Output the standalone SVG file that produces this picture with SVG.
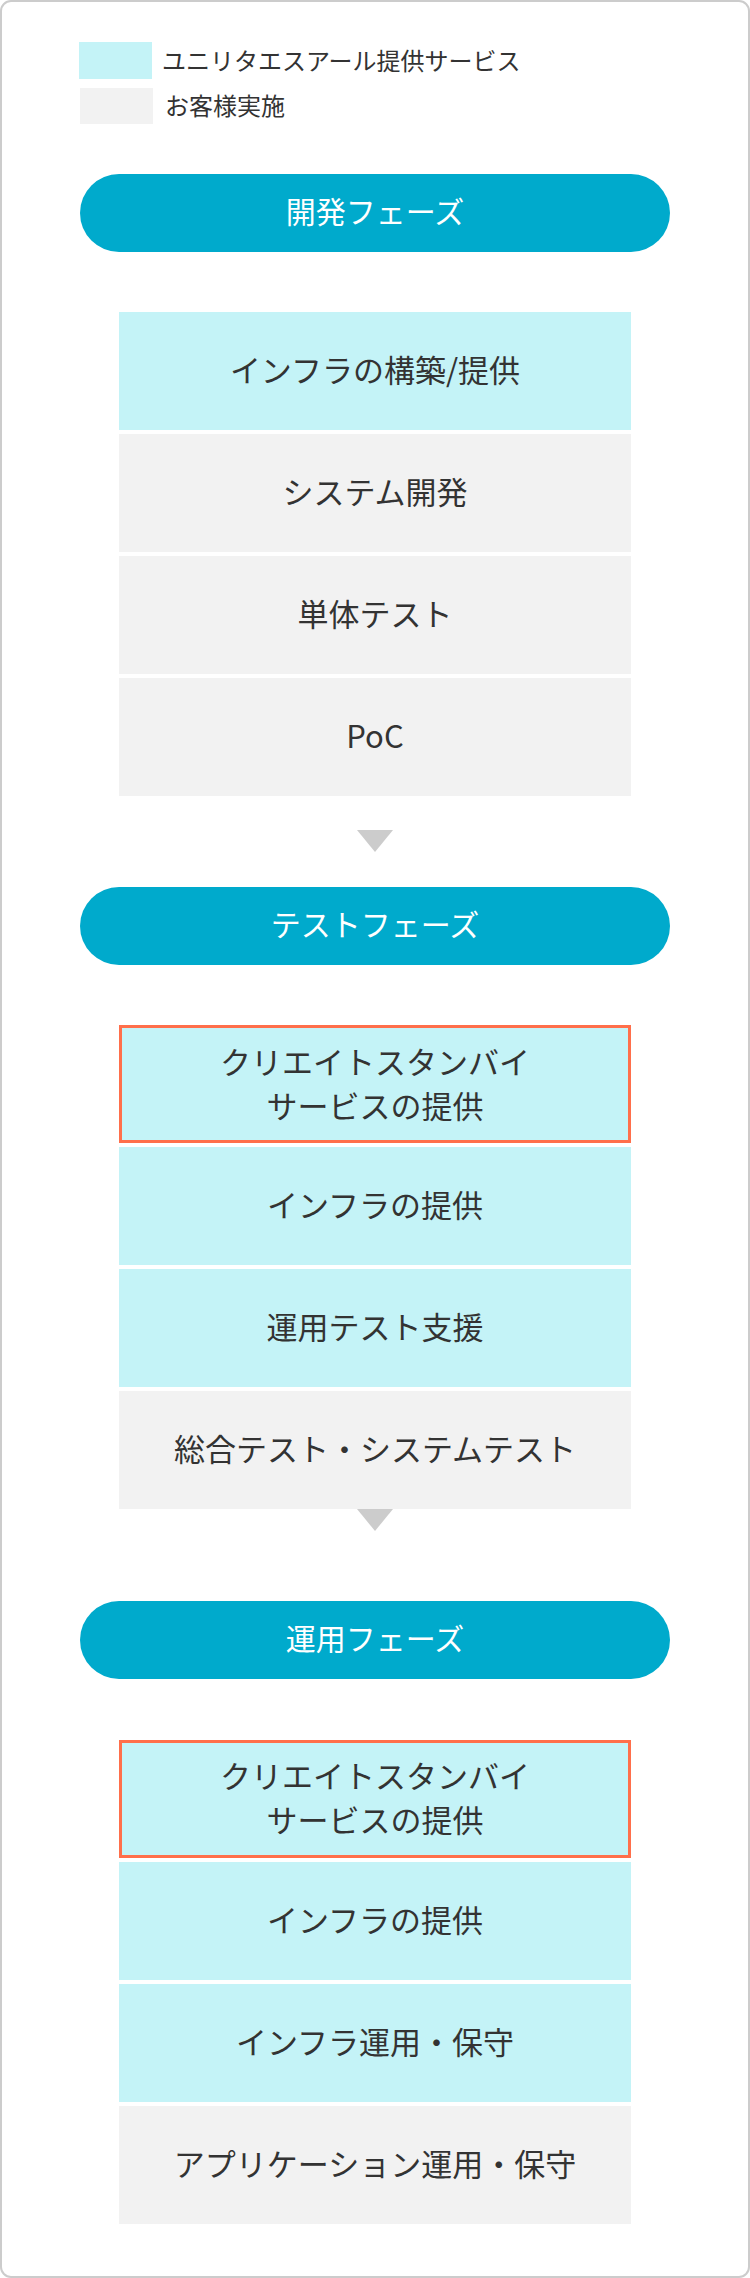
<svg xmlns="http://www.w3.org/2000/svg" width="750" height="2278" viewBox="0 0 750 2278">
  <style>
    text { font-family: "Noto Sans CJK JP", "Noto Sans", sans-serif; }
    .frame { fill: #ffffff; stroke: #cccccc; stroke-width: 2; }
    .svc { fill: #c4f3f7; }
    .cust { fill: #f2f2f2; }
    .hl { fill: #c4f3f7; stroke: #ff6f4b; stroke-width: 3; }
    .pill { fill: #00aacc; }
    .pill-t { fill: #ffffff; font-size: 30px; font-weight: 400; text-anchor: middle; dominant-baseline: central; }
    .box-t { fill: #333333; font-size: 31px; font-weight: 400; text-anchor: middle; dominant-baseline: central; }
    .leg-t { fill: #333333; font-size: 24px; dominant-baseline: central; }
    .arrow { fill: #cccccc; }
  </style>
  <rect class="frame" x="1" y="1" width="748" height="2276" rx="10" ry="10"/>

  <g id="legend">
    <g id="legend-service">
      <rect class="svc" x="79" y="42" width="73" height="37"/>
      <text class="leg-t" x="162" y="59">ユニリタエスアール提供サービス</text>
    </g>
    <g id="legend-customer">
      <rect class="cust" x="80" y="88" width="73" height="36"/>
      <text class="leg-t" x="165" y="104">お客様実施</text>
    </g>
  </g>

  <g id="phase-dev">
    <rect class="pill" x="80" y="174" width="590" height="78" rx="39" ry="39"/>
    <text class="pill-t" x="375" y="210">開発フェーズ</text>
  </g>
  <g id="dev-infra">
    <rect class="svc" x="119" y="312" width="512" height="118"/>
    <text class="box-t" x="375" y="368">インフラの構築/提供</text>
  </g>
  <g id="dev-system">
    <rect class="cust" x="119" y="434" width="512" height="118"/>
    <text class="box-t" x="375" y="490">システム開発</text>
  </g>
  <g id="dev-unittest">
    <rect class="cust" x="119" y="556" width="512" height="118"/>
    <text class="box-t" x="375" y="612">単体テスト</text>
  </g>
  <g id="dev-poc">
    <rect class="cust" x="119" y="678" width="512" height="118"/>
    <text class="box-t" x="375" y="734">PoC</text>
  </g>

  <g id="phase-test">
    <rect class="pill" x="80" y="887" width="590" height="78" rx="39" ry="39"/>
    <text class="pill-t" x="375" y="923">テストフェーズ</text>
  </g>
  <g id="test-standby">
    <rect class="hl" x="120.5" y="1026.5" width="509" height="115"/>
    <text class="box-t" x="375" y="1060">クリエイトスタンバイ</text>
    <text class="box-t" x="375" y="1104">サービスの提供</text>
  </g>
  <g id="test-infra">
    <rect class="svc" x="119" y="1147" width="512" height="118"/>
    <text class="box-t" x="375" y="1203">インフラの提供</text>
  </g>
  <g id="test-ops">
    <rect class="svc" x="119" y="1269" width="512" height="118"/>
    <text class="box-t" x="375" y="1325">運用テスト支援</text>
  </g>
  <g id="test-system">
    <rect class="cust" x="119" y="1391" width="512" height="118"/>
    <text class="box-t" x="375" y="1447">総合テスト・システムテスト</text>
  </g>

  <g id="phase-ops">
    <rect class="pill" x="80" y="1601" width="590" height="78" rx="39" ry="39"/>
    <text class="pill-t" x="375" y="1637">運用フェーズ</text>
  </g>
  <g id="ops-standby">
    <rect class="hl" x="120.5" y="1741.5" width="509" height="115"/>
    <text class="box-t" x="375" y="1774">クリエイトスタンバイ</text>
    <text class="box-t" x="375" y="1818">サービスの提供</text>
  </g>
  <g id="ops-infra">
    <rect class="svc" x="119" y="1862" width="512" height="118"/>
    <text class="box-t" x="375" y="1918">インフラの提供</text>
  </g>
  <g id="ops-infra-maint">
    <rect class="svc" x="119" y="1984" width="512" height="118"/>
    <text class="box-t" x="375" y="2040">インフラ運用・保守</text>
  </g>
  <g id="ops-app-maint">
    <rect class="cust" x="119" y="2106" width="512" height="118"/>
    <text class="box-t" x="375" y="2162">アプリケーション運用・保守</text>
  </g>

  <g id="connectors">
    <polygon class="arrow" points="357,830 393,830 375,852"/>
    <polygon class="arrow" points="357,1509 393,1509 375,1531"/>
  </g>
</svg>
